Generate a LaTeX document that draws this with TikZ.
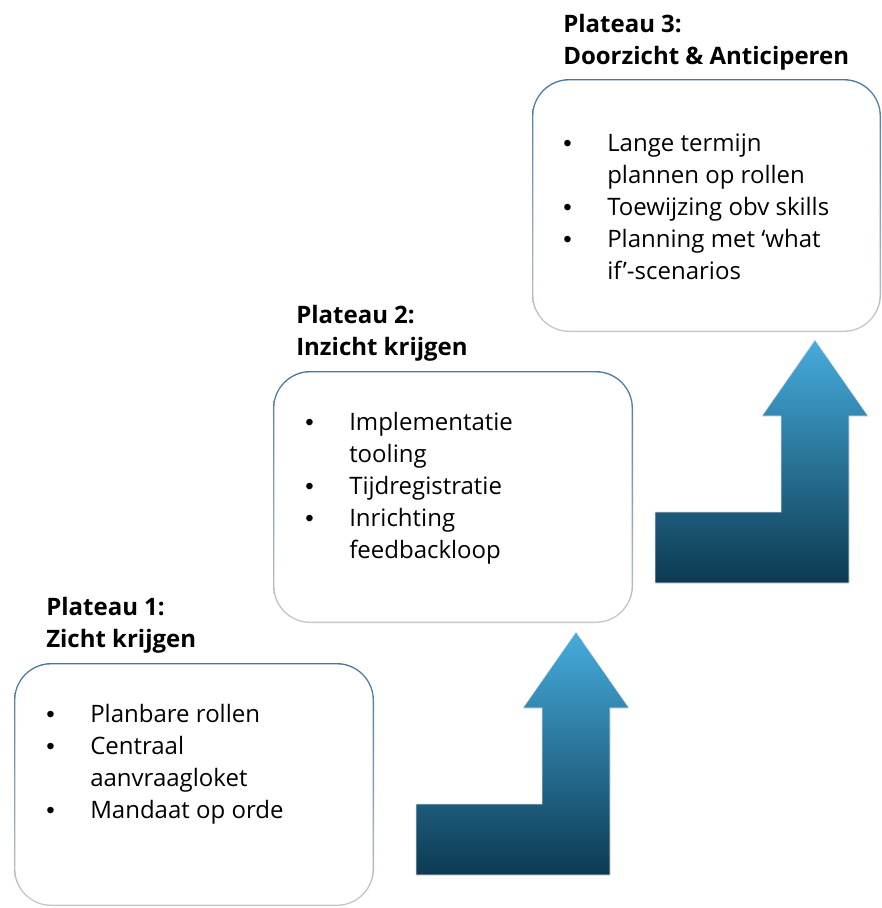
\documentclass[tikz,border=0pt]{standalone}
\usepackage{fontspec}
\setmainfont{Open Sans}
\newfontfamily\puntfont{Liberation Sans}

\definecolor{rimblue}{RGB}{70,120,155}
\definecolor{rimgray}{RGB}{200,200,200}
\definecolor{pijltop}{RGB}{70,172,220}
\definecolor{pijlmid}{RGB}{26,104,142}
\definecolor{pijlbodem}{RGB}{12,58,82}

% bullet list and title blocks, baseline on the first line
\newcommand{\punt}{{\puntfont\textbullet}}
\newcommand{\lijst}[1]{\begin{tabular}[t]{@{}p{33pt}@{}l@{}}#1\end{tabular}}
\newcommand{\regels}[1]{\begin{tabular}[t]{@{}l@{}}#1\end{tabular}}

\begin{document}
\begin{tikzpicture}[x=0.75pt,y=-0.75pt,
    rim/.style={top color=rimblue,middle color=rimgray,bottom color=rimgray,
      rounded corners=28pt},
    vlak/.style={fill=white,rounded corners=27pt},
    pijl/.style={top color=pijltop,middle color=pijlmid,bottom color=pijlbodem,
      draw=gray!25,line width=0.4pt},
    kop/.style={anchor=base west,inner sep=0pt,
      font=\bfseries\fontsize{18}{24}\selectfont},
    punten/.style={anchor=base west,inner sep=0pt,
      font=\fontsize{18}{24}\selectfont}]
  \useasboundingbox (0,0) rectangle (882,908);

  % plateau boxes: shaded rim, white inside
  \foreach \l/\t/\r/\b in {14/663/374/906, 273/371/633/623, 532/79/881/332} {
    \shade[rim] (\l,\t) rectangle (\r,\b);
    \fill[vlak] (\l+1.4,\t+1.4) rectangle (\r-1.4,\b-1.4);
  }

  % bent arrows between the plateaus
  \foreach \dx/\dy in {0/0, 239/-292} {
    \shade[pijl,shift={(\dx,\dy)}] (416,875) -- (416,804) -- (542,804)
      -- (542,708) -- (523,708) -- (576,632) -- (629,708) -- (610,708)
      -- (610,875) -- cycle;
  }

  % plateau 1
  \node[kop] (kop1) at (46,615) {\regels{Plateau 1:\\Zicht krijgen}};
  \node[punten] (lijst1) at (46,722) {\lijst{
    \punt & Planbare rollen\\
    \punt & Centraal\\
          & aanvraagloket\\
    \punt & Mandaat op orde}};

  % plateau 2
  \node[kop] (kop2) at (296,323) {\regels{Plateau 2:\\Inzicht krijgen}};
  \node[punten] (lijst2) at (305,430) {\lijst{
    \punt & Implementatie\\
          & tooling\\
    \punt & Tijdregistratie\\
    \punt & Inrichting\\
          & feedbackloop}};

  % plateau 3
  \node[kop] (kop3) at (563,32) {\regels{Plateau 3:\\Doorzicht \& Anticiperen}};
  \node[punten] (lijst3) at (563,151) {\lijst{
    \punt & Lange termijn\\
          & plannen op rollen\\
    \punt & Toewijzing obv skills\\
    \punt & Planning met ‘what\\
          & if’-scenarios}};
\end{tikzpicture}
\end{document}
